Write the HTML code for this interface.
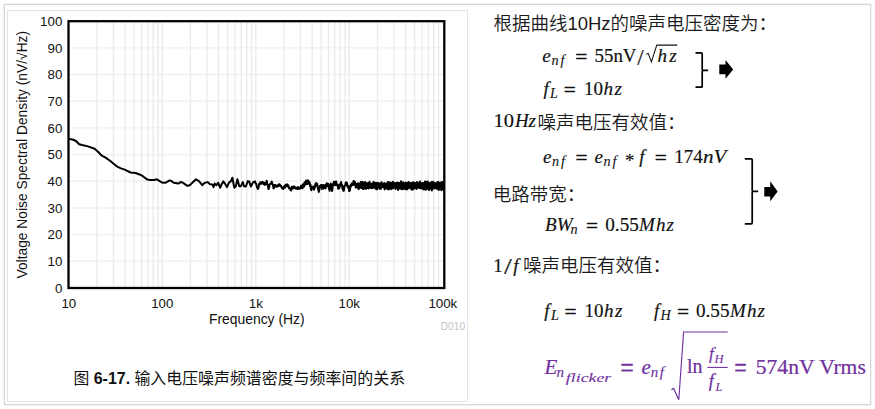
<!DOCTYPE html>
<html><head><meta charset="utf-8"><style>
html,body{margin:0;padding:0;background:#fff;}
#wrap{position:relative;width:875px;height:409px;overflow:hidden;background:#fff;}
.frame{position:absolute;left:4px;top:4px;width:865px;height:399px;border:1px solid #d6d6d6;box-shadow:0 0 1.5px rgba(0,0,0,0.18);background:#fff;}
.panel{position:absolute;left:7px;top:10px;width:459px;height:390px;border:1px solid #e4e4e4;}
.chart{position:absolute;left:0;top:0;}
</style></head><body><div id="wrap">
<div class="frame"></div>
<div class="panel"></div>
<svg class="chart" width="875" height="409" viewBox="0 0 875 409">
<g stroke="#ebebeb" stroke-width="1.4"><line x1="96.95" y1="21.2" x2="96.95" y2="288.0"/><line x1="113.41" y1="21.2" x2="113.41" y2="288.0"/><line x1="125.09" y1="21.2" x2="125.09" y2="288.0"/><line x1="134.15" y1="21.2" x2="134.15" y2="288.0"/><line x1="141.56" y1="21.2" x2="141.56" y2="288.0"/><line x1="147.82" y1="21.2" x2="147.82" y2="288.0"/><line x1="153.24" y1="21.2" x2="153.24" y2="288.0"/><line x1="158.02" y1="21.2" x2="158.02" y2="288.0"/><line x1="190.45" y1="21.2" x2="190.45" y2="288.0"/><line x1="206.91" y1="21.2" x2="206.91" y2="288.0"/><line x1="218.59" y1="21.2" x2="218.59" y2="288.0"/><line x1="227.65" y1="21.2" x2="227.65" y2="288.0"/><line x1="235.06" y1="21.2" x2="235.06" y2="288.0"/><line x1="241.32" y1="21.2" x2="241.32" y2="288.0"/><line x1="246.74" y1="21.2" x2="246.74" y2="288.0"/><line x1="251.52" y1="21.2" x2="251.52" y2="288.0"/><line x1="283.95" y1="21.2" x2="283.95" y2="288.0"/><line x1="300.41" y1="21.2" x2="300.41" y2="288.0"/><line x1="312.09" y1="21.2" x2="312.09" y2="288.0"/><line x1="321.15" y1="21.2" x2="321.15" y2="288.0"/><line x1="328.56" y1="21.2" x2="328.56" y2="288.0"/><line x1="334.82" y1="21.2" x2="334.82" y2="288.0"/><line x1="340.24" y1="21.2" x2="340.24" y2="288.0"/><line x1="345.02" y1="21.2" x2="345.02" y2="288.0"/><line x1="377.45" y1="21.2" x2="377.45" y2="288.0"/><line x1="393.91" y1="21.2" x2="393.91" y2="288.0"/><line x1="405.59" y1="21.2" x2="405.59" y2="288.0"/><line x1="414.65" y1="21.2" x2="414.65" y2="288.0"/><line x1="422.06" y1="21.2" x2="422.06" y2="288.0"/><line x1="428.32" y1="21.2" x2="428.32" y2="288.0"/><line x1="433.74" y1="21.2" x2="433.74" y2="288.0"/><line x1="438.52" y1="21.2" x2="438.52" y2="288.0"/><line x1="162.30" y1="21.2" x2="162.30" y2="288.0"/><line x1="255.80" y1="21.2" x2="255.80" y2="288.0"/><line x1="349.30" y1="21.2" x2="349.30" y2="288.0"/><line x1="68.5" y1="261.32" x2="444.3" y2="261.32" stroke="#efefef"/><line x1="68.5" y1="234.64" x2="444.3" y2="234.64" stroke="#efefef"/><line x1="68.5" y1="207.96" x2="444.3" y2="207.96" stroke="#efefef"/><line x1="68.5" y1="181.28" x2="444.3" y2="181.28" stroke="#efefef"/><line x1="68.5" y1="154.60" x2="444.3" y2="154.60" stroke="#efefef"/><line x1="68.5" y1="127.92" x2="444.3" y2="127.92" stroke="#efefef"/><line x1="68.5" y1="101.24" x2="444.3" y2="101.24" stroke="#efefef"/><line x1="68.5" y1="74.56" x2="444.3" y2="74.56" stroke="#efefef"/><line x1="68.5" y1="47.88" x2="444.3" y2="47.88" stroke="#efefef"/></g>
<path d="M69.2,139.1 L72.6,139.5 L76.0,141.0 L79.2,144.2 L82.1,145.0 L88.0,146.4 L94.6,148.8 L97.5,151.3 L101.9,155.7 L105.6,157.6 L110.0,160.8 L117.3,166.7 L121.0,168.4 L124.7,169.6 L130.5,172.5 L135.6,173.0 L141.5,175.2 L147.4,179.6 L150.3,180.1 L154.0,179.9 L156.9,179.3 L161.3,182.2 L163.4,182.7 L165.7,182.7 L169.7,180.4 L171.4,181.0 L173.7,182.7 L178.3,183.6 L181.1,181.9 L183.4,183.1 L187.4,185.8 L189.7,185.3 L193.1,182.1 L196.0,179.3 L198.9,181.0 L200.0,182.4 L202.2,185.2 L204.4,183.0 L207.5,182.1 L210.1,184.3 L212.6,184.6 L213.5,187.1 L214.8,183.6 L216.4,185.2 L218.2,182.7 L220.1,187.7 L221.7,184.3 L223.3,181.4 L225.2,184.0 L227.0,187.1 L228.9,182.7 L230.8,181.4 L232.4,177.7 L234.3,187.7 L235.8,186.5 L237.4,179.2 L239.3,186.2 L240.9,186.2 L242.8,182.1 L244.0,186.2 L245.9,186.5 L247.8,181.1 L249.1,181.4 L250.9,186.5 L253.1,182.1 L255.0,181.4 L255.6,183.5 L256.2,183.7 L257.0,187.4 L257.9,189.0 L258.5,187.8 L259.1,183.7 L259.7,184.4 L260.3,182.2 L260.9,182.9 L261.7,183.8 L262.4,181.9 L263.2,182.3 L263.8,184.2 L264.4,182.9 L265.0,184.9 L265.9,184.1 L266.7,180.8 L267.3,184.1 L267.9,185.5 L268.5,189.0 L269.1,187.8 L269.7,184.2 L270.3,183.7 L271.0,183.7 L271.7,181.4 L272.3,184.2 L272.9,184.6 L273.5,188.4 L273.9,188.1 L274.4,184.9 L275.0,186.6 L275.5,185.0 L276.1,186.7 L276.8,186.8 L277.5,185.3 L278.2,186.3 L278.9,184.3 L279.6,184.3 L280.4,186.0 L281.1,185.8 L281.9,188.1 L282.6,188.7 L283.3,188.9 L284.1,186.3 L284.8,187.8 L285.5,184.8 L286.3,186.2 L287.0,184.3 L287.7,186.4 L288.4,185.4 L289.1,188.6 L289.8,188.0 L290.5,189.9 L291.1,190.5 L291.8,186.7 L292.5,188.6 L293.1,186.4 L293.8,188.1 L294.5,186.5 L295.3,188.5 L296.0,187.5 L296.7,188.7 L297.4,189.0 L298.1,187.0 L298.9,188.9 L299.6,187.8 L300.4,188.5 L301.2,185.6 L302.0,185.8 L302.4,188.3 L302.9,184.2 L303.3,187.2 L303.7,186.7 L304.1,186.6 L304.6,182.2 L305.0,183.2 L305.5,184.5 L306.0,180.6 L306.5,184.0 L307.0,181.7 L307.5,184.0 L308.0,180.2 L308.5,182.0 L308.9,183.4 L309.3,181.8 L309.7,182.9 L310.1,186.2 L310.5,184.7 L310.9,189.0 L311.3,190.3 L311.8,187.0 L312.2,188.4 L312.6,186.7 L313.1,187.9 L313.5,186.6 L313.9,189.7 L314.4,188.1 L314.8,187.8 L315.3,183.9 L315.8,185.6 L316.2,182.9 L316.7,185.2 L317.1,183.6 L317.6,186.7 L318.0,189.4 L318.4,188.5 L318.8,192.0 L319.2,190.8 L319.6,186.5 L320.0,185.8 L320.5,186.9 L320.9,184.9 L321.4,186.1 L321.8,188.9 L322.2,185.1 L322.6,187.6 L323.1,188.6 L323.6,185.1 L324.0,188.1 L324.5,185.6 L325.0,186.7 L325.5,188.5 L325.9,184.4 L326.4,186.7 L326.8,183.2 L327.3,185.2 L327.7,186.0 L328.1,183.7 L328.5,184.6 L328.9,188.6 L329.2,187.5 L329.6,190.8 L330.0,189.5 L330.4,185.1 L330.8,183.4 L331.2,186.8 L331.6,186.9 L332.0,191.1 L332.4,189.7 L332.8,184.5 L333.2,183.7 L333.6,184.7 L333.9,181.7 L334.3,182.9 L334.8,185.3 L335.3,181.8 L335.7,185.0 L336.2,181.5 L336.7,183.7 L337.2,185.6 L337.6,184.6 L338.1,188.7 L338.5,185.5 L339.0,188.4 L339.4,187.9 L339.8,184.3 L340.2,183.7 L340.6,185.8 L341.1,181.9 L341.6,185.4 L342.0,184.6 L342.5,188.9 L342.9,186.6 L343.4,190.8 L343.9,190.7 L344.4,185.9 L344.9,185.5 L345.3,185.3 L345.7,182.6 L346.1,182.3 L346.5,185.3 L347.0,182.8 L347.4,186.5 L347.8,185.5 L348.2,187.9 L348.7,186.1 L349.2,191.1 L349.6,190.8 L350.0,190.0 L350.4,185.9 L350.8,184.9 L351.2,186.4 L351.6,183.5 L352.1,185.1 L352.5,183.7 L353.0,185.0 L353.5,181.1 L354.0,184.5 L354.5,181.4 L355.0,182.3 L355.8,187.6 L356.5,184.0 L357.2,187.5 L358.0,183.2 L358.7,189.2 L359.5,183.4 L360.2,187.8 L360.9,181.8 L361.6,188.0 L362.4,181.9 L363.1,189.1 L363.8,182.4 L364.5,188.5 L365.2,182.0 L365.9,188.9 L366.7,183.2 L367.4,188.1 L368.1,182.9 L368.8,188.4 L369.5,181.8 L370.1,187.4 L370.8,183.7 L371.5,188.3 L372.2,183.5 L372.9,187.9 L373.6,182.1 L374.2,187.6 L374.9,182.8 L375.6,188.8 L376.3,183.0 L376.9,189.3 L377.6,182.8 L378.3,187.5 L378.9,183.3 L379.6,188.8 L380.2,183.4 L380.9,188.8 L381.5,182.3 L382.2,187.1 L382.8,184.3 L383.5,187.5 L384.1,182.9 L384.7,189.4 L385.4,183.8 L386.0,187.7 L386.6,183.5 L387.2,188.8 L387.9,181.9 L388.5,189.4 L389.1,182.4 L389.7,188.6 L390.3,182.6 L390.9,189.2 L391.6,183.1 L392.2,188.2 L392.8,181.8 L393.4,188.3 L394.0,182.8 L394.6,187.7 L395.2,183.3 L395.7,189.0 L396.3,182.9 L396.9,187.5 L397.5,182.5 L398.1,189.9 L398.7,183.2 L399.3,188.4 L399.8,183.0 L400.4,188.5 L401.0,181.3 L401.5,189.3 L402.1,183.3 L402.7,189.0 L403.2,182.2 L403.8,188.8 L404.4,183.6 L404.9,189.0 L405.5,182.7 L406.0,189.2 L406.6,182.7 L407.1,189.3 L407.7,183.6 L408.2,188.3 L408.7,181.9 L409.3,187.5 L409.8,183.4 L410.4,188.2 L410.9,182.9 L411.4,189.3 L411.9,183.3 L412.5,189.8 L413.0,182.3 L413.5,189.0 L414.0,182.8 L414.6,188.3 L415.1,183.7 L415.6,187.7 L416.1,182.8 L416.6,188.9 L417.1,182.0 L417.6,187.1 L418.1,183.4 L418.6,187.8 L419.1,182.7 L419.6,187.9 L420.1,181.4 L420.6,188.2 L421.1,183.7 L421.6,188.5 L422.1,183.1 L422.6,187.8 L423.0,183.4 L423.5,189.4 L424.0,182.9 L424.5,189.0 L425.0,181.6 L425.4,189.8 L425.9,181.7 L426.4,189.3 L426.9,183.2 L427.3,187.9 L427.8,181.4 L428.3,189.0 L428.7,182.7 L429.2,189.9 L429.6,183.5 L430.1,188.5 L430.5,182.9 L431.0,187.7 L431.4,182.0 L431.9,190.5 L432.3,183.4 L432.8,188.1 L433.2,181.7 L433.7,188.3 L434.1,183.7 L434.6,188.5 L435.0,182.9 L435.4,188.1 L435.9,183.7 L436.3,188.1 L436.7,183.1 L437.2,188.8 L437.6,181.9 L438.0,189.2 L438.4,182.1 L438.9,189.9 L439.3,183.3 L439.7,187.9 L440.1,182.8 L440.5,188.6 L440.9,182.8 L441.3,190.3 L441.8,182.0 L442.2,188.9 L442.6,182.9 L443.0,189.4 L443.4,182.1 L443.4,188.6 L443.4,185.5" fill="none" stroke="#000" stroke-width="2" stroke-linejoin="round" stroke-linecap="round"/>
<rect x="68.5" y="21.2" width="375.8" height="266.8" fill="none" stroke="#000" stroke-width="2.3"/>
<g font-family="Liberation Sans, sans-serif" font-size="13.3" fill="#111"><text x="62.3" y="292.7" text-anchor="end">0</text><text x="62.3" y="266.0" text-anchor="end">10</text><text x="62.3" y="239.3" text-anchor="end">20</text><text x="62.3" y="212.7" text-anchor="end">30</text><text x="62.3" y="186.0" text-anchor="end">40</text><text x="62.3" y="159.3" text-anchor="end">50</text><text x="62.3" y="132.6" text-anchor="end">60</text><text x="62.3" y="105.9" text-anchor="end">70</text><text x="62.3" y="79.3" text-anchor="end">80</text><text x="62.3" y="52.6" text-anchor="end">90</text><text x="62.3" y="25.9" text-anchor="end">100</text><text x="68.8" y="308.3" text-anchor="middle">10</text><text x="162.3" y="308.3" text-anchor="middle">100</text><text x="255.8" y="308.3" text-anchor="middle">1k</text><text x="349.3" y="308.3" text-anchor="middle">10k</text><text x="442.8" y="308.3" text-anchor="middle">100k</text>
<text x="256.8" y="324.2" text-anchor="middle" font-size="13.9">Frequency (Hz)</text>
<text transform="translate(27.2,278.5) rotate(-90)" text-anchor="start" font-size="13.8">Voltage Noise Spectral Density (nV/√Hz)</text>
</g>
<text x="465.2" y="330.4" text-anchor="end" font-family="Liberation Sans, sans-serif" font-size="10.3" fill="#c4c4c4">D010</text>
</svg>


<svg class="chart" width="875" height="409" viewBox="0 0 875 409" font-family="Liberation Serif, serif" fill="#111"><text x="542.3" y="62" font-size="19" font-style="italic" stroke="#111" stroke-width="0.18">e</text><text x="551.5" y="65.2" font-size="14.2" font-style="italic" stroke="#111" stroke-width="0.10">n</text><text x="560.5" y="65.2" font-size="14.2" font-style="italic" stroke="#111" stroke-width="0.10">f</text><text x="575.2" y="63.3" font-size="19" stroke="#111" stroke-width="0.35" textLength="12" lengthAdjust="spacingAndGlyphs">=</text><text x="594.5" y="62" font-size="19" stroke="#111" stroke-width="0.18" textLength="42" lengthAdjust="spacingAndGlyphs">55nV</text><text x="637.2" y="65.2" font-size="23" stroke="#111" stroke-width="0.18">/</text><text x="657.6" y="62" font-size="19" font-style="italic" stroke="#111" stroke-width="0.18" textLength="19" lengthAdjust="spacing">hz</text><path d="M646.3,54.3 L648.2,53.4 L651.4,62 L656.8,45.1 L677.2,45.1" fill="none" stroke="#111" stroke-width="1.05"/><text x="543.5" y="94.6" font-size="19" font-style="italic" stroke="#111" stroke-width="0.18">f</text><text x="550.1" y="97.8" font-size="14.2" font-style="italic" stroke="#111" stroke-width="0.10">L</text><text x="563.8" y="95.89999999999999" font-size="19" stroke="#111" stroke-width="0.35" textLength="12" lengthAdjust="spacingAndGlyphs">=</text><text x="584.0" y="94.6" font-size="19" stroke="#111" stroke-width="0.18">10</text><text x="603.5" y="94.6" font-size="19" font-style="italic" stroke="#111" stroke-width="0.18" textLength="18.5" lengthAdjust="spacing">hz</text><text x="543.0" y="162.7" font-size="19" font-style="italic" stroke="#111" stroke-width="0.18">e</text><text x="552.0" y="165.89999999999998" font-size="14.2" font-style="italic" stroke="#111" stroke-width="0.10">n</text><text x="561.0" y="165.89999999999998" font-size="14.2" font-style="italic" stroke="#111" stroke-width="0.10">f</text><text x="575.6" y="164.0" font-size="19" stroke="#111" stroke-width="0.35" textLength="12" lengthAdjust="spacingAndGlyphs">=</text><text x="594.5" y="162.7" font-size="19" font-style="italic" stroke="#111" stroke-width="0.18">e</text><text x="603.5" y="165.89999999999998" font-size="14.2" font-style="italic" stroke="#111" stroke-width="0.10">n</text><text x="612.5" y="165.89999999999998" font-size="14.2" font-style="italic" stroke="#111" stroke-width="0.10">f</text><text x="625.0" y="167.29999999999998" font-size="19" stroke="#111" stroke-width="0.18">*</text><text x="639.3" y="162.7" font-size="19" font-style="italic" stroke="#111" stroke-width="0.18">f</text><text x="654.7" y="164.0" font-size="19" stroke="#111" stroke-width="0.35" textLength="12" lengthAdjust="spacingAndGlyphs">=</text><text x="674.3" y="162.7" font-size="19" stroke="#111" stroke-width="0.18" textLength="28.5" lengthAdjust="spacingAndGlyphs">174</text><text x="703.0" y="162.7" font-size="19" font-style="italic" stroke="#111" stroke-width="0.18" textLength="23.5" lengthAdjust="spacingAndGlyphs">nV</text><text x="545.0" y="230.8" font-size="19" font-style="italic" stroke="#111" stroke-width="0.18" textLength="27.5" lengthAdjust="spacingAndGlyphs">BW</text><text x="570.4" y="234.4" font-size="14.2" font-style="italic" stroke="#111" stroke-width="0.10">n</text><text x="586.0" y="232.10000000000002" font-size="19" stroke="#111" stroke-width="0.35" textLength="12" lengthAdjust="spacingAndGlyphs">=</text><text x="605.3" y="230.8" font-size="19" stroke="#111" stroke-width="0.18" textLength="33.5" lengthAdjust="spacingAndGlyphs">0.55</text><text x="639.0" y="230.8" font-size="19" font-style="italic" stroke="#111" stroke-width="0.18" textLength="35" lengthAdjust="spacing">Mhz</text><text x="544.3" y="316.7" font-size="19" font-style="italic" stroke="#111" stroke-width="0.18">f</text><text x="550.9" y="319.9" font-size="14.2" font-style="italic" stroke="#111" stroke-width="0.10">L</text><text x="564.6" y="318.0" font-size="19" stroke="#111" stroke-width="0.35" textLength="12" lengthAdjust="spacingAndGlyphs">=</text><text x="584.5" y="316.7" font-size="19" stroke="#111" stroke-width="0.18">10</text><text x="604.0" y="316.7" font-size="19" font-style="italic" stroke="#111" stroke-width="0.18" textLength="18.5" lengthAdjust="spacing">hz</text><text x="654.0" y="316.7" font-size="19" font-style="italic" stroke="#111" stroke-width="0.18">f</text><text x="660.6" y="319.9" font-size="14.2" font-style="italic" stroke="#111" stroke-width="0.10">H</text><text x="677.0" y="318.0" font-size="19" stroke="#111" stroke-width="0.35" textLength="12" lengthAdjust="spacingAndGlyphs">=</text><text x="696.0" y="316.7" font-size="19" stroke="#111" stroke-width="0.18" textLength="33.5" lengthAdjust="spacingAndGlyphs">0.55</text><text x="730.0" y="316.7" font-size="19" font-style="italic" stroke="#111" stroke-width="0.18" textLength="35" lengthAdjust="spacing">Mhz</text><text x="544.5" y="373.6" font-size="21" font-style="italic" fill="#7030a0" stroke="#7030a0" stroke-width="0.22">E</text><text x="556.6" y="377.3" font-size="15" font-style="italic" fill="#7030a0" stroke="#7030a0" stroke-width="0.14">n</text><text x="565.8" y="381.5" font-size="11.5" font-style="italic" fill="#7030a0" stroke="#7030a0" stroke-width="0.08" textLength="45.5" lengthAdjust="spacingAndGlyphs">flicker</text><text transform="translate(620.3,378.1) scale(1,1.4)" x="0" y="0" font-size="21" fill="#7030a0" stroke="#7030a0" stroke-width="0.25" textLength="13.5" lengthAdjust="spacingAndGlyphs">=</text><text x="641.6" y="373.6" font-size="21" font-style="italic" fill="#7030a0" stroke="#7030a0" stroke-width="0.22">e</text><text x="650.8" y="377.4" font-size="15" font-style="italic" fill="#7030a0" stroke="#7030a0" stroke-width="0.14">n</text><text x="659.8" y="377.4" font-size="15" font-style="italic" fill="#7030a0" stroke="#7030a0" stroke-width="0.14">f</text><path d="M671.4,389.8 L673.6,388.4 L678.8,399.8 L683.6,332.0 L727.7,332.0" fill="none" stroke="#7030a0" stroke-width="1.15" stroke-linejoin="miter"/><text x="687.0" y="372.8" font-size="21" fill="#7030a0" stroke="#7030a0" stroke-width="0.22" textLength="15.5" lengthAdjust="spacingAndGlyphs">ln</text><line x1="707.4" y1="367.4" x2="727.7" y2="367.4" stroke="#7030a0" stroke-width="1.1"/><text x="709.0" y="359.0" font-size="17.5" font-style="italic" fill="#7030a0" stroke="#7030a0" stroke-width="0.19">f</text><text x="714.6" y="362.5" font-size="12.5" font-style="italic" fill="#7030a0" stroke="#7030a0" stroke-width="0.10">H</text><text x="708.8" y="386.6" font-size="18.5" font-style="italic" fill="#7030a0" stroke="#7030a0" stroke-width="0.21">f</text><text x="715.6" y="390.8" font-size="12.5" font-style="italic" fill="#7030a0" stroke="#7030a0" stroke-width="0.10">L</text><text transform="translate(734.2,378.1) scale(1,1.4)" x="0" y="0" font-size="21" fill="#7030a0" stroke="#7030a0" stroke-width="0.25" textLength="12.5" lengthAdjust="spacingAndGlyphs">=</text><text x="755.8" y="373.6" font-size="21" fill="#7030a0" stroke="#7030a0" stroke-width="0.22" textLength="110" lengthAdjust="spacingAndGlyphs">574nV Vrms</text><path d="M695.5,52.9 L701.2,52.9 Q702.2,52.9 702.2,53.9 L702.2,69.4 Q702.2,70.4 703.2,70.4 L708.2,70.4 M703.2,70.4 Q702.2,70.4 702.2,71.4 L702.2,86.2 Q702.2,87.2 701.2,87.2 L695.5,87.2" fill="none" stroke="#000" stroke-width="1.7"/><path d="M719.3,64.6 L725.5,64.6 L725.5,59.9 L733.2,69.4 L725.5,78.7 L725.5,74.3 L719.3,74.3 Z" fill="#000"/><path d="M744.8,158.8 L751.2,158.8 Q752.2,158.8 752.2,159.8 L752.2,190.4 Q752.2,191.4 753.2,191.4 L758.2,191.4 M753.2,191.4 Q752.2,191.4 752.2,192.4 L752.2,222.8 Q752.2,223.8 751.2,223.8 L744.8,223.8" fill="none" stroke="#000" stroke-width="1.7"/><path d="M764.3,187.1 L770.2,187.1 L770.2,181.3 L777.7,191.4 L770.2,201.2 L770.2,196.5 L764.3,196.5 Z" fill="#000"/><text x="493.4" y="29.8" font-size="18.5" fill="#1a1a1a" font-family="Liberation Sans, Noto Sans CJK SC, sans-serif" font-weight="350">根据曲线10Hz的噪声电压密度为：</text><text x="493.6" y="127.4" font-size="19" stroke="#111" stroke-width="0.18" textLength="20.5" lengthAdjust="spacingAndGlyphs">10</text><text x="515.0" y="127.4" font-size="19" font-style="italic" stroke="#111" stroke-width="0.18" textLength="21" lengthAdjust="spacing">Hz</text><text x="537.5" y="128.6" font-size="18.5" fill="#1a1a1a" font-family="Liberation Sans, Noto Sans CJK SC, sans-serif" font-weight="350">噪声电压有效值：</text><text x="492.8" y="201.4" font-size="18.5" fill="#1a1a1a" font-family="Liberation Sans, Noto Sans CJK SC, sans-serif" font-weight="350">电路带宽：</text><text x="493.2" y="271.6" font-size="19" stroke="#111" stroke-width="0.18">1</text><text x="504.0" y="274.2" font-size="23" stroke="#111" stroke-width="0.18" textLength="7.8" lengthAdjust="spacingAndGlyphs">/</text><text x="513.3" y="271.6" font-size="19" font-style="italic" stroke="#111" stroke-width="0.18">f</text><text x="522.9" y="272.4" font-size="18.5" fill="#1a1a1a" font-family="Liberation Sans, Noto Sans CJK SC, sans-serif" font-weight="350">噪声电压有效值：</text><text x="73.6" y="384.0" font-size="15.85" fill="#111" font-family="Liberation Sans, Noto Sans CJK SC, sans-serif" font-weight="400">图</text><text x="93.7" y="384.2" font-size="16.0" fill="#111" font-family="Liberation Sans, sans-serif" font-weight="bold">6-17.</text><text x="134.4" y="384.0" font-size="15.93" fill="#111" font-family="Liberation Sans, Noto Sans CJK SC, sans-serif" font-weight="400">输入电压噪声频谱密度与频率间的关系</text></svg>
</div></body></html>
